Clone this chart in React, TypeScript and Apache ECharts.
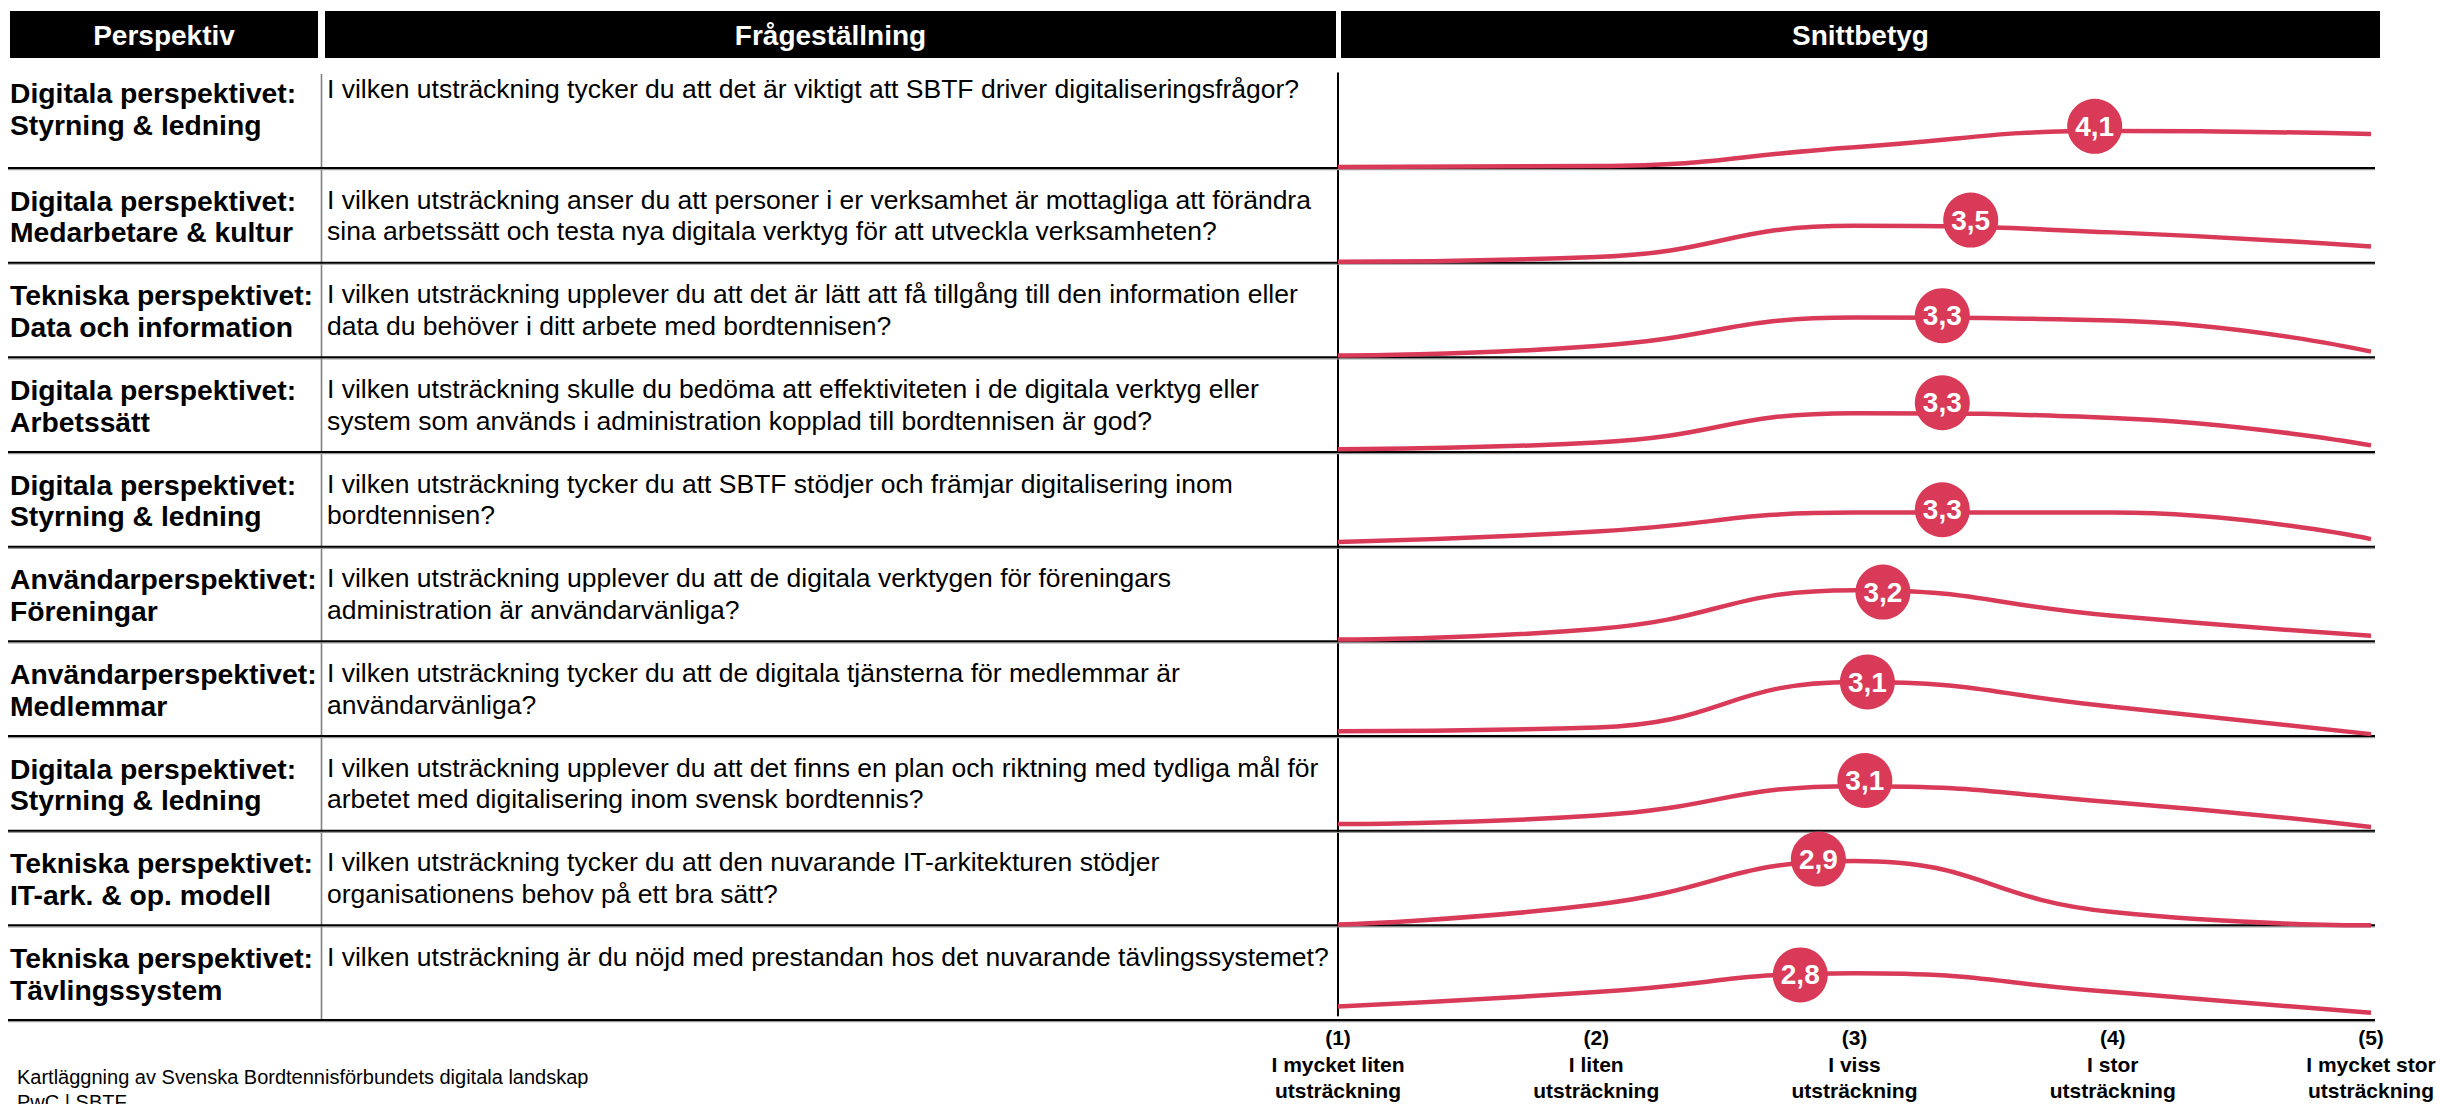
import React, { useEffect, useRef } from "react";
import * as echarts from "echarts";

// ---------- DATA ----------
const perspectiveTitles = [
  "Digitala perspektivet:",
  "Digitala perspektivet:",
  "Tekniska perspektivet:",
  "Digitala perspektivet:",
  "Digitala perspektivet:",
  "Användarperspektivet:",
  "Användarperspektivet:",
  "Digitala perspektivet:",
  "Tekniska perspektivet:",
  "Tekniska perspektivet:",
];
const perspectiveAreas = [
  "Styrning & ledning",
  "Medarbetare & kultur",
  "Data och information",
  "Arbetssätt",
  "Styrning & ledning",
  "Föreningar",
  "Medlemmar",
  "Styrning & ledning",
  "IT-ark. & op. modell",
  "Tävlingssystem",
];
const questions = [
  "I vilken utsträckning tycker du att det är viktigt att SBTF driver digitaliseringsfrågor?",
  "I vilken utsträckning anser du att personer i er verksamhet är mottagliga att förändra\nsina arbetssätt och testa nya digitala verktyg för att utveckla verksamheten?",
  "I vilken utsträckning upplever du att det är lätt att få tillgång till den information eller\ndata du behöver i ditt arbete med bordtennisen?",
  "I vilken utsträckning skulle du bedöma att effektiviteten i de digitala verktyg eller\nsystem som används i administration kopplad till bordtennisen är god?",
  "I vilken utsträckning tycker du att SBTF stödjer och främjar digitalisering inom\nbordtennisen?",
  "I vilken utsträckning upplever du att de digitala verktygen för föreningars\nadministration är användarvänliga?",
  "I vilken utsträckning tycker du att de digitala tjänsterna för medlemmar är\nanvändarvänliga?",
  "I vilken utsträckning upplever du att det finns en plan och riktning med tydliga mål för\narbetet med digitalisering inom svensk bordtennis?",
  "I vilken utsträckning tycker du att den nuvarande IT-arkitekturen stödjer\norganisationens behov på ett bra sätt?",
  "I vilken utsträckning är du nöjd med prestandan hos det nuvarande tävlingssystemet?",
];

// answer distribution (share of respondents, %) for scale steps 1..5
const sharesQ1 = [1, 2, 22, 39, 36];
const sharesQ2 = [1, 6, 39, 32, 17];
const sharesQ3 = [2, 12, 42, 39, 6];
const sharesQ4 = [3, 10, 41, 36, 7];
const sharesQ5 = [5, 16, 36, 36, 8];
const sharesQ6 = [2, 13, 54, 27, 6];
const sharesQ7 = [5, 9, 57, 31, 2];
const sharesQ8 = [7, 16, 47, 30, 4];
const sharesQ9 = [1, 22, 68, 14, 0];
const sharesQ10 = [10, 26, 47, 26, 3];
const allShares = [sharesQ1, sharesQ2, sharesQ3, sharesQ4, sharesQ5, sharesQ6, sharesQ7, sharesQ8, sharesQ9, sharesQ10];

const meanScores = [4.1, 3.5, 3.3, 3.3, 3.3, 3.2, 3.1, 3.1, 2.9, 2.8];
const markerX = [3.93, 3.45, 3.34, 3.34, 3.34, 3.11, 3.05, 3.04, 2.86, 2.79];
const markerY = [44, 45, 44, 52, 39, 52, 57, 53, 70, 45];

const scaleSteps = ["(1)", "(2)", "(3)", "(4)", "(5)"];
const scaleTexts = ["I mycket liten", "I liten", "I viss", "I stor", "I mycket stor"];
const scaleUnit = "utsträckning";

const headers = ["Perspektiv", "Frågeställning", "Snittbetyg"];
const footerLines = ["Kartläggning av Svenska Bordtennisförbundets digitala landskap", "PwC | SBTF"];

// ---------- STYLE / LAYOUT ----------
const FONT = '"Liberation Sans", Arial, Helvetica, sans-serif';
const RED = "#d83a57";
const W = 2440;
const H = 1104;
const ROW_H = 94.67;
const FIRST_SEP = 168;
const CHART_L = 1338;
const CHART_R = 2371;

function fmt(v: number) {
  return v.toFixed(1).replace(".", ",");
}

export default function App() {
  const ref = useRef<HTMLDivElement>(null);

  useEffect(() => {
    if (!ref.current) return;
    document.body.style.margin = "0";
    const chart = echarts.init(ref.current, undefined, { renderer: "svg" });

    const n = allShares.length;
    const sepY = (i: number) => FIRST_SEP + i * ROW_H;

    const grids: any[] = [];
    const xAxes: any[] = [];
    const yAxes: any[] = [];
    const series: any[] = [];
    const graphics: any[] = [];

    // headers
    const headerBoxes = [
      [10, 318],
      [325, 1336],
      [1341, 2380],
    ];
    headerBoxes.forEach(([x0, x1], k) => {
      graphics.push({
        type: "rect",
        shape: { x: x0, y: 11, width: x1 - x0, height: 47 },
        style: { fill: "#000" },
      });
      graphics.push({
        type: "text",
        x: (x0 + x1) / 2,
        y: 35,
        style: {
          text: headers[k],
          fill: "#fff",
          font: `bold 28px ${FONT}`,
          textAlign: "center",
          textVerticalAlign: "middle",
        },
      });
    });

    // vertical grey separator between first two columns
    graphics.push({
      type: "line",
      shape: { x1: 321.5, y1: 74, x2: 321.5, y2: sepY(n - 1) },
      style: { stroke: "#808080", lineWidth: 1.6 },
    });

    for (let i = 0; i < n; i++) {
      const bottom = sepY(i);
      const top = bottom - ROW_H;
      const shift = i === 0 ? -13 : 0;
      const line1 = bottom - 62 + shift;

      // separators
      graphics.push({
        type: "line",
        shape: { x1: 8, y1: bottom + 1.6, x2: 2375, y2: bottom + 1.6 },
        style: { stroke: "#9a9a9a", lineWidth: 1.2 },
        z: 1,
      });
      graphics.push({
        type: "line",
        shape: { x1: 8, y1: bottom, x2: 2375, y2: bottom },
        style: { stroke: "#000", lineWidth: 2 },
        z: 1,
      });

      // perspective text
      graphics.push({
        type: "text",
        x: 10,
        y: line1 - 15.75,
        style: {
          text: perspectiveTitles[i] + "\n" + perspectiveAreas[i],
          fill: "#000",
          font: `bold 28.3px ${FONT}`,
          lineHeight: 31.5,
          textAlign: "left",
          textVerticalAlign: "top",
        },
      });
      // question text
      graphics.push({
        type: "text",
        x: 327,
        y: line1 - 15.75 - (i === 0 ? 4 : 1),
        style: {
          text: questions[i],
          fill: "#000",
          font: `26.5px ${FONT}`,
          lineHeight: 31.5,
          textAlign: "left",
          textVerticalAlign: "top",
        },
      });

      grids.push({ left: CHART_L, top, width: CHART_R - CHART_L, height: ROW_H, containLabel: false });
      const isLast = i === n - 1;
      xAxes.push({
        type: "value",
        gridIndex: i,
        min: 1,
        max: 5,
        interval: 1,
        show: isLast,
        axisLine: { show: false },
        axisTick: { show: false },
        splitLine: { show: false },
        axisLabel: {
          show: isLast,
          margin: 9,
          color: "#000",
          fontFamily: FONT,
          fontWeight: "bold",
          fontSize: 21,
          lineHeight: 26.5,
          align: "center",
          formatter: (v: number) => {
            const k = Math.round(v) - 1;
            return `${scaleSteps[k]}\n${scaleTexts[k]}\n${scaleUnit}`;
          },
        },
      });
      yAxes.push({
        type: "value",
        gridIndex: i,
        min: 0,
        max: 100,
        axisLine: { show: true, onZero: false, lineStyle: { color: "#000", width: 2 } },
        axisTick: { show: false },
        axisLabel: { show: false },
        splitLine: { show: false },
      });

      series.push({
        type: "line",
        xAxisIndex: i,
        yAxisIndex: i,
        data: allShares[i].map((v, k) => [k + 1, v]),
        smooth: 0.5,
        symbol: "none",
        clip: false,
        lineStyle: { color: RED, width: 4.5 },
        z: 3,
      });
      series.push({
        type: "scatter",
        xAxisIndex: i,
        yAxisIndex: i,
        data: [[markerX[i], markerY[i]]],
        symbol: "circle",
        symbolSize: 55,
        clip: false,
        itemStyle: { color: RED, opacity: 1 },
        label: {
          show: true,
          position: "inside",
          formatter: () => fmt(meanScores[i]),
          color: "#fff",
          fontFamily: FONT,
          fontWeight: "bold",
          fontSize: 28,
        },
        z: 4,
      });
    }

    // footer
    graphics.push({
      type: "text",
      x: 17,
      y: 1077 - 13,
      style: {
        text: footerLines.join("\n"),
        fill: "#000",
        font: `20px ${FONT}`,
        lineHeight: 25,
        textAlign: "left",
        textVerticalAlign: "top",
      },
    });

    chart.setOption({
      animation: false,
      backgroundColor: "#fff",
      grid: grids,
      xAxis: xAxes,
      yAxis: yAxes,
      series,
      graphic: { elements: graphics },
    });

    return () => chart.dispose();
  }, []);

  return (
    <div
      ref={ref}
      style={{ position: "absolute", left: 0, top: 0, width: W, height: H }}
    />
  );
}
